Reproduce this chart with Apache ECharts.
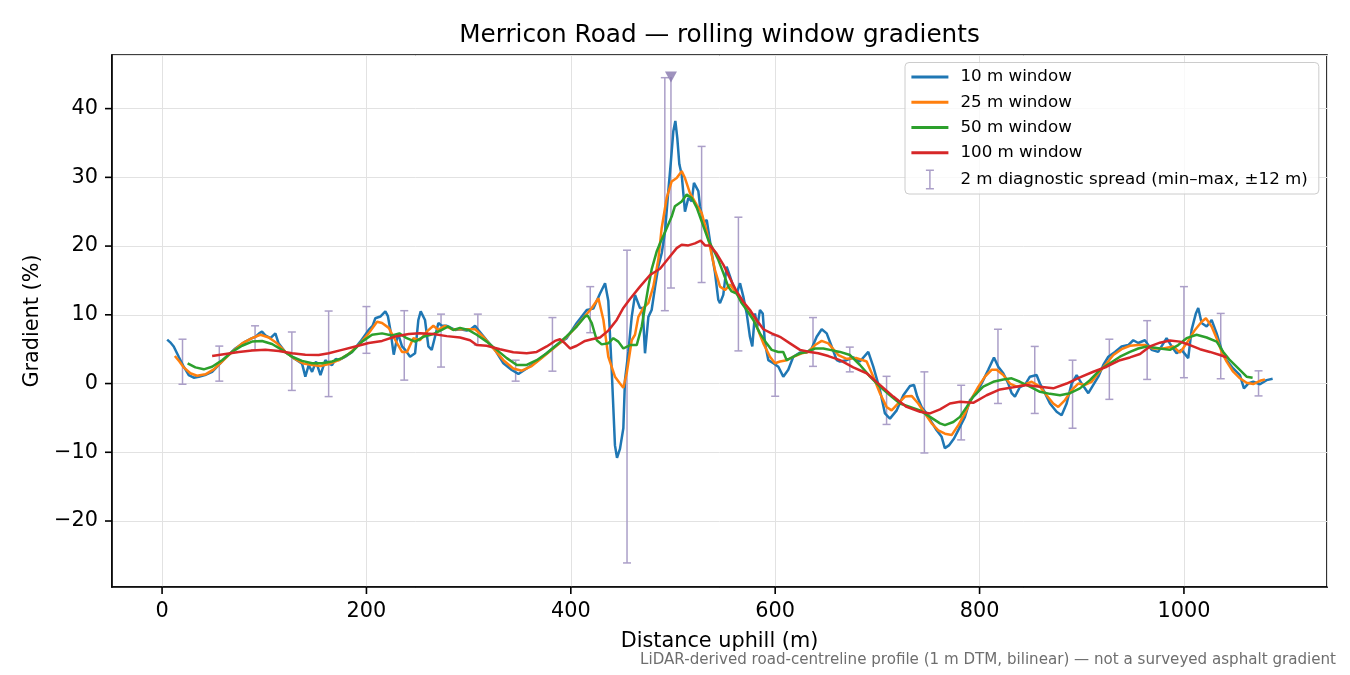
<!DOCTYPE html>
<html>
<head>
<meta charset="utf-8">
<title>Merricon Road gradients</title>
<script src="https://cdn.jsdelivr.net/npm/echarts@6/dist/echarts.min.js"></script>
<style>
  html, body { margin: 0; padding: 0; background: #fff; }
  #chart { width: 1350px; height: 675px; }
</style>
</head>
<body>
<div id="chart"></div>
<script>
// distance uphill (m) and gradient (%) for each rolling window
const dist10 = [
  5, 8, 11.4, 16.3, 21.2, 26.1, 31, 36, 42, 49,
  55.5, 63.6, 71.7, 81.5, 88, 91.3, 95, 97.8, 101, 106,
  110.9, 114, 120.6, 128.8, 133, 137, 140.2, 143.5, 146.8, 150.7,
  155, 159.8, 163, 166.3, 170, 172.9, 179.4, 185.9, 194, 202.2,
  206, 208.7, 213.6, 218.5, 221, 223.4, 226.7, 230.9, 234.8, 238,
  242.7, 247.6, 250.8, 253.1, 257.3, 260.6, 263.9, 267.1, 270.4, 273.7,
  278.6, 286.7, 292, 298.1, 303, 306.3, 309.5, 317.7, 325.8, 334,
  342.2, 348.7, 356.8, 366.6, 376.4, 386.2, 396, 405.8, 415.6, 422,
  428.6, 433.5, 436.7, 440, 443.2, 445.2, 448.1, 451.4, 453, 456.3,
  459.6, 462.8, 467.7, 470.3, 472.6, 475.9, 479.1, 482.4, 485.6, 489,
  492.2, 495.4, 497.7, 500.3, 502.3, 504.2, 506.2, 508.5, 511.7, 515,
  518.3, 520.5, 522, 524.8, 526.4, 529.7, 533, 535.5, 537.9, 541.1,
  544.3, 546, 549.2, 552.5, 555.8, 559, 562.3, 565.6, 568.8, 572.1,
  575.3, 577.6, 580.2, 582.5, 585.1, 587.8, 590, 593.3, 598.2, 603.1,
  607.9, 612.8, 617.7, 624.3, 630.8, 635.7, 640.6, 645.5, 650.4, 655,
  660.2, 663.4, 670, 676.4, 682.9, 691.1, 696, 702.5, 707.4, 712.3,
  718.9, 725.4, 731.9, 735.8, 739, 743.3, 748.2, 753.1, 758, 762.9,
  766, 770, 775, 780.8, 785.7, 790.6, 797.2, 803.6, 808.5, 814.1,
  818.3, 823.2, 828.1, 831.4, 834.6, 839.5, 844.4, 849.3, 855.8, 859.1,
  864, 868.9, 875.4, 880.3, 885.2, 890.1, 895, 899.9, 906.4, 911.3,
  916.2, 921.1, 926, 932.5, 939, 945.5, 950.4, 955.3, 961.8, 968.4,
  974.8, 983, 988, 992.8, 997.7, 1004.2, 1007.5, 1011.7, 1014, 1017.3,
  1022.2, 1027.1, 1032, 1036.9, 1041.8, 1048.2, 1054.8, 1058.7, 1062.9, 1067.8,
  1074.4, 1080.9, 1086.8
]
const grad10 = [
  6.4, 6.0, 5.4, 3.9, 2.45, 1.24, 0.85, 1.0, 1.24, 1.7,
  2.7, 4.0, 5.1, 6.1, 6.6, 6.8, 7.3, 7.55, 7.0, 6.6,
  7.3, 5.85, 4.6, 3.7, 3.3, 2.9, 1.0, 2.7, 1.7, 3.2,
  1.24, 3.4, 2.9, 2.7, 3.6, 3.4, 3.9, 4.6, 6.1, 7.8,
  8.4, 9.5, 9.75, 10.5, 9.8, 7.8, 4.2, 7.3, 5.4, 4.9,
  3.9, 4.4, 9.25, 10.5, 9.25, 5.4, 4.9, 6.8, 8.8, 8.4,
  8.4, 7.8, 7.9, 7.7, 8.0, 8.4, 7.8, 6.3, 4.9, 2.95,
  1.97, 1.4, 2.2, 3.2, 4.4, 5.6, 6.6, 8.8, 10.7, 10.9,
  13.1, 14.6, 12.0, 2.0, -9.0, -10.8, -9.5, -6.5, 0.5, 4.6,
  9.7, 12.9, 11.0, 11.0, 4.4, 9.7, 10.7, 14.0, 17.0, 19.0,
  22.1, 28.0, 31.9, 36.7, 38.2, 35.7, 31.9, 30.4, 25.0, 27.0,
  26.5, 29.2, 29.0, 28.0, 25.8, 23.4, 23.8, 21.4, 19.0, 16.1,
  12.2, 11.7, 12.9, 17.0, 15.6, 14.1, 13.1, 14.6, 12.65, 10.2,
  6.8, 5.4, 10.2, 8.3, 10.7, 10.2, 5.85, 3.4, 2.95, 2.45,
  1.0, 2.0, 3.9, 4.5, 4.5, 5.1, 6.8, 7.9, 7.3, 5.5,
  3.4, 3.2, 3.4, 3.8, 3.2, 4.6, 2.45, -0.95, -4.35, -5.1,
  -3.9, -1.7, -0.36, -0.2, -1.9, -3.4, -4.35, -5.6, -6.8, -7.75,
  -9.4, -9.0, -8.0, -6.3, -4.85, -2.4, -1.4, 0.5, 2.0, 3.8,
  2.45, 1.5, 0.0, -1.4, -1.9, -0.5, -0.2, 1.0, 1.24, 0.0,
  -1.4, -2.9, -4.1, -4.6, -2.9, 0.0, 1.24, 0.0, -1.4, -0.2,
  1.0, 2.7, 3.9, 4.6, 5.4, 5.6, 6.3, 5.9, 6.3, 4.9,
  4.6, 6.6, 5.4, 4.4, 4.9, 3.7, 7.8, 10.2, 11.0, 8.8,
  8.3, 9.25, 7.3, 4.9, 3.4, 2.2, 1.24, -0.7, 0.0, 0.26,
  -0.1, 0.5, 0.7
]

const dist25 = [
  12.5, 17, 21.2, 27.7, 34.2, 42.4, 50.6, 58.7, 68.5, 78.3,
  88.1, 96.2, 104.4, 112.5, 120.6, 128.8, 138.6, 146.8, 155, 163.1,
  172.9, 182.6, 192.4, 202.2, 210.4, 215.3, 221.8, 228.3, 234.8, 239.7,
  245.9, 252.4, 259, 265.5, 270.4, 276.9, 283.5, 294.8, 306.3, 314.4,
  324.2, 334, 343.7, 352, 361.7, 371.5, 381.3, 391.1, 400.9, 410.7,
  420.5, 427, 431.9, 436.7, 443.2, 448.1, 451.4, 454.7, 459.6, 462.8,
  466.1, 471, 475.9, 480.7, 485.6, 488.9, 493.8, 498.7, 503.6, 508.5,
  511.7, 516.6, 523.2, 528.1, 533, 537.9, 541.1, 546, 550.9, 555.8,
  562.3, 568.8, 575.3, 581.9, 588.4, 594.9, 599.8, 604.7, 611.3, 617.7,
  625.9, 632.4, 639, 645.5, 652, 661.8, 670, 679.8, 689.5, 696,
  702.5, 709, 713.9, 720.4, 727, 733.5, 740, 746.6, 753.1, 759.6,
  766.1, 772.7, 779.2, 785.7, 792.3, 798.8, 805.3, 811.8, 816.7, 823.2,
  829.7, 836.3, 842.8, 851, 859.1, 865.6, 872.1, 877, 883.6, 890.1,
  896.6, 903.1, 909.7, 916.2, 924.4, 930.9, 939, 947.2, 955.3, 962,
  970, 979.8, 989.5, 996.1, 1002.6, 1010.8, 1017.3, 1021.5, 1027.1, 1032,
  1036.9, 1041.8, 1048.2, 1054.8, 1061.3, 1067.8, 1074.4, 1079.3
]
const grad25 = [
  4.0, 3.2, 2.35, 1.5, 1.14, 1.34, 2.07, 3.2, 4.6, 5.85,
  6.6, 7.1, 6.7, 5.85, 4.6, 3.7, 2.9, 2.7, 2.55, 2.85,
  3.4, 4.3, 5.6, 7.3, 9.0, 8.8, 8.1, 6.3, 4.6, 4.6,
  6.6, 6.3, 7.55, 8.4, 7.8, 8.4, 7.9, 7.9, 7.9, 6.8,
  5.1, 3.4, 2.2, 1.87, 2.55, 3.7, 4.9, 6.1, 7.55, 9.25,
  11.0, 12.4, 9.25, 3.9, 1.0, 0.0, -0.6, 1.5, 6.3, 7.1,
  9.7, 11.0, 11.7, 14.1, 18.0, 22.6, 27.0, 29.4, 29.9, 30.9,
  29.9, 27.7, 26.0, 24.8, 22.1, 18.7, 16.5, 14.1, 13.6, 14.4,
  13.1, 11.7, 10.7, 8.3, 5.85, 3.9, 2.95, 3.2, 3.4, 3.9,
  4.4, 4.6, 5.6, 6.2, 5.85, 4.15, 3.6, 3.7, 3.2, 1.0,
  -1.4, -3.4, -3.9, -2.9, -1.9, -1.8, -2.9, -4.35, -5.8, -6.8,
  -7.3, -7.5, -6.05, -4.35, -2.15, -0.45, 1.0, 2.0, 2.0, 1.24,
  0.0, -0.45, -0.2, 0.26, -0.45, -1.7, -2.9, -3.4, -2.4, -0.95,
  0.0, -0.2, 0.26, 1.5, 2.95, 4.15, 5.0, 5.5, 5.6, 5.6,
  5.1, 5.1, 5.4, 4.5, 5.85, 7.8, 9.0, 9.5, 8.3, 6.6,
  4.6, 3.2, 1.72, 0.76, 0.12, -0.07, 0.4, 0.6
]

const dist50 = [
  25, 32.6, 40.8, 48.9, 58.7, 68.5, 78.3, 88.1, 97.8, 107.6,
  117.4, 127.2, 137, 146.8, 156.6, 166.3, 176.1, 185.9, 195.7, 205.5,
  215.3, 225, 232.2, 239.4, 247.6, 255.7, 265.5, 273.7, 280.1, 285,
  291.6, 299.7, 307.9, 317.7, 327.5, 337.3, 347.1, 356.8, 366.6, 376.4,
  386.2, 396, 405.8, 413.9, 416.5, 420.5, 425.4, 430.2, 436.7, 441.6,
  446.5, 451.4, 457.9, 464.5, 469.4, 472.6, 475.9, 479.1, 484, 487.3,
  493.8, 498.7, 501.9, 508.5, 513.4, 518.3, 523.2, 529.7, 534.5, 539.4,
  544.3, 549.2, 554.1, 557.4, 562.3, 567.2, 572.1, 578.6, 585.1, 591.6,
  596.5, 603.1, 607.9, 611.3, 617.7, 624.3, 630.8, 639, 647.1, 653.6,
  663.4, 673.2, 683, 692.8, 702.5, 712.3, 722.1, 731.9, 741.7, 751.5,
  761.3, 766.1, 774.3, 780.8, 787.4, 793.8, 803.6, 813.4, 823.2, 831.4,
  839.5, 849.3, 859.1, 868.9, 878.7, 888.5, 898.2, 908, 917.8, 927.6,
  937.4, 947.2, 955.3, 963.5, 976.5, 986.3, 994.4, 1002.6, 1012.4, 1022.2,
  1032, 1038.5, 1045, 1053.2, 1061.3, 1067.2
]
const grad50 = [
  2.95, 2.35, 2.07, 2.45, 3.4, 4.6, 5.5, 6.1, 6.2, 5.75,
  4.9, 3.9, 3.3, 2.95, 2.95, 3.2, 3.7, 4.6, 6.1, 7.1,
  7.3, 7.0, 7.3, 6.6, 6.1, 6.8, 7.2, 7.8, 8.3, 7.8,
  8.1, 7.8, 7.1, 6.1, 4.9, 3.7, 2.7, 2.7, 3.4, 4.4,
  5.6, 6.9, 8.3, 9.75, 9.9, 8.8, 6.3, 5.7, 5.85, 6.6,
  6.1, 5.1, 5.6, 5.6, 8.3, 11.2, 14.1, 16.6, 19.2, 20.4,
  22.6, 24.3, 25.8, 26.5, 27.5, 27.0, 25.6, 22.9, 20.9, 19.5,
  18.0, 16.1, 14.1, 13.4, 13.1, 11.7, 10.7, 9.25, 7.3, 5.85,
  4.9, 4.6, 4.6, 3.4, 3.9, 4.4, 4.6, 5.1, 5.1, 4.9,
  4.6, 4.15, 2.7, 1.0, -0.45, -1.7, -2.9, -3.4, -3.9, -4.85,
  -5.8, -6.05, -5.6, -4.85, -3.4, -1.9, -0.45, 0.26, 0.6, 0.76,
  0.26, -0.45, -1.2, -1.5, -1.7, -1.4, -0.7, 0.5, 2.0, 2.95,
  3.9, 4.6, 5.1, 5.4, 5.1, 4.9, 5.6, 6.6, 7.1, 6.7,
  6.1, 4.6, 3.4, 2.2, 1.0, 0.85
]

const dist100 = [
  49, 62, 75, 88.1, 101.1, 114.2, 127.2, 140.2, 153.3, 163.1,
  176.1, 189.1, 202.2, 215.3, 228.3, 241.4, 252.4, 265.5, 278.6, 291.6,
  301.4, 307.9, 317.7, 330.7, 343.7, 356.8, 366.6, 376.4, 384.5, 389.4,
  394.3, 399.2, 405.8, 413.9, 420.5, 428.6, 436.7, 444.9, 451.4, 457.9,
  467.7, 477.5, 487.3, 495.4, 503.6, 508.5, 515, 521.5, 527.1, 531.3,
  536.2, 542.7, 549.2, 555.8, 562.3, 568.8, 575.3, 581.9, 588.4, 596.5,
  604.7, 614.5, 624.3, 634, 642.2, 652, 663.4, 676.4, 689.5, 702.5,
  715.6, 728.6, 741.7, 751.5, 761.3, 771, 780.8, 793.8, 806.9, 820,
  833, 846, 859.1, 872.1, 885.2, 898.2, 911.3, 924.4, 937.4, 947.2,
  957, 966.7, 976.5, 986.3, 996.1, 1005.9, 1015.7, 1025.4, 1035.2, 1041.8
]
const grad100 = [
  4.0, 4.3, 4.6, 4.8, 4.9, 4.75, 4.4, 4.2, 4.15, 4.4,
  4.9, 5.4, 5.9, 6.2, 6.85, 7.2, 7.3, 7.2, 6.9, 6.7,
  6.3, 5.6, 5.5, 5.0, 4.55, 4.4, 4.6, 5.4, 6.2, 6.45,
  5.85, 5.1, 5.5, 6.2, 6.45, 6.7, 7.7, 9.25, 11.0, 12.3,
  14.1, 15.8, 16.7, 18.2, 19.7, 20.2, 20.1, 20.4, 20.8, 20.1,
  20.1, 18.9, 17.3, 15.3, 13.4, 11.9, 10.7, 9.25, 7.9, 7.3,
  6.8, 5.85, 4.9, 4.6, 4.4, 4.0, 3.4, 2.35, 1.5, -0.2,
  -1.9, -3.4, -4.1, -4.35, -3.75, -2.9, -2.65, -2.8, -1.7, -0.85,
  -0.55, -0.2, -0.45, -0.7, 0.0, 0.9, 1.72, 2.45, 3.4, 3.8,
  4.3, 5.4, 5.95, 6.25, 6.1, 5.6, 5.0, 4.6, 4.15, 3.8
]

// 2 m diagnostic spread, min and max within ±12 m
const spreadDist = [20, 56, 91, 127, 163, 200, 237, 273, 309, 346, 382, 419, 455, 492, 528,
  564, 600, 637, 673, 709, 746, 782, 818, 854, 891, 927, 964, 1000, 1036, 1073]
const spreadMin = [-0.1, 0.35, 4.9, -1.0, -1.9, 4.4, 0.5, 2.4, 5.6, 0.35, 1.8, 7.4, -26.1, 10.6, 14.7,
  4.75, -1.85, 2.5, 1.7, -5.95, -10.1, -8.2, -2.9, -4.35, -6.5, -2.3, 0.6, 0.85, 0.7, -1.8]
const spreadMax = [6.45, 5.45, 8.4, 7.5, 10.55, 11.2, 10.6, 10.1, 10.1, 3.4, 9.6, 14.1, 19.4, 44.5, 34.5,
  24.2, 7.0, 9.6, 5.3, 1.05, 1.7, -0.25, 7.9, 5.4, 3.4, 6.45, 9.15, 14.1, 10.2, 1.85]

// spread that runs off the top of the axis, flagged with a marker
const clippedDist = [498]
const clippedMin = [13.9]
const clippedTop = [44.6]

const xTicks = [0, 200, 400, 600, 800, 1000]
const yTicks = [-20, -10, 0, 10, 20, 30, 40]

const X_MIN = -49
const X_MAX = 1140
const Y_MIN = -29.6
const Y_MAX = 47.8

const FONT = 'DejaVu Sans'
const spreadColor = '#ab9fc8'
const spreadName = '2 m diagnostic spread (min–max, ±12 m)'
// I-beam legend icon, outer moves keep the box at the legend item size
const ibeamIcon = 'path://M0,0 M37,20 M14.5,0 L22.5,0 L22.5,1.5 L19.25,1.5 L19.25,18.5 L22.5,18.5 L22.5,20 L14.5,20 L14.5,18.5 L17.75,18.5 L17.75,1.5 L14.5,1.5 Z'
const LINE_W = 2.5
const TICK_LEN = 7

function zip(xs, ys) {
  return xs.map((x, i) => [x, ys[i]])
}

function lineSeries(name, xs, ys, color) {
  return {
    name,
    type: 'line',
    data: zip(xs, ys),
    symbol: 'none',
    showSymbol: false,
    smooth: false,
    lineStyle: { color, width: LINE_W },
    itemStyle: { color },
    z: 3
  }
}

function renderSpread(params, api) {
  const x = api.value(0)
  const lo = api.coord([x, api.value(1)])
  const hi = api.coord([x, api.value(2)])
  const w = 4
  const style = { stroke: spreadColor, lineWidth: 1.5 }
  const children = [
    { type: 'line', shape: { x1: lo[0], y1: lo[1], x2: hi[0], y2: hi[1] }, style },
    { type: 'line', shape: { x1: lo[0] - w, y1: lo[1], x2: lo[0] + w, y2: lo[1] }, style }
  ]
  if (api.value(3)) {
    children.push({ type: 'line', shape: { x1: hi[0] - w, y1: hi[1], x2: hi[0] + w, y2: hi[1] }, style })
  }
  return { type: 'group', children }
}

const spreadData = spreadDist.map((d, i) => [d, spreadMin[i], spreadMax[i], 1])
  .concat(clippedDist.map((d, i) => [d, clippedMin[i], clippedTop[i], 0]))

const tickText = v => (v < 0 ? '\u2212' + Math.abs(v) : String(v))
const hideDot = { opacity: 0 }
const legendLine = { width: 2.8 }
const frameLine = { color: '#000', width: 1.6 }

const footnote = {
  type: 'text',
  right: 14,
  top: 653,
  style: {
    text: 'LiDAR-derived road-centreline profile (1 m DTM, bilinear) — not a surveyed asphalt gradient',
    fontFamily: FONT,
    fontSize: 15.1,
    fill: '#6e6e6e'
  }
}

const option = {
  animation: false,
  backgroundColor: '#fff',
  textStyle: { fontFamily: FONT },
  title: {
    text: 'Merricon Road — rolling window gradients',
    left: 719.5,
    top: 23,
    textAlign: 'center',
    padding: 0,
    textStyle: { fontFamily: FONT, fontSize: 24.7, fontWeight: 'normal', color: '#000' }
  },
  grid: {
    left: 112, right: 23, top: 55, bottom: 88,
    show: true, borderColor: '#000', borderWidth: 1.6
  },
  legend: {
    orient: 'vertical',
    left: 905,
    top: 62.5,
    padding: [6, 11, 4.5, 5],
    itemWidth: 37,
    itemHeight: 20,
    itemGap: 8.25,
    backgroundColor: 'rgba(255,255,255,0.8)',
    borderColor: '#cccccc',
    borderWidth: 1,
    borderRadius: 4,
    textStyle: { fontFamily: FONT, fontSize: 16.7, color: '#000', padding: [0, 0, 0, 7] },
    data: [
      { name: '10 m window', itemStyle: hideDot, lineStyle: legendLine },
      { name: '25 m window', itemStyle: hideDot, lineStyle: legendLine },
      { name: '50 m window', itemStyle: hideDot, lineStyle: legendLine },
      { name: '100 m window', itemStyle: hideDot, lineStyle: legendLine },
      { name: spreadName, icon: ibeamIcon }
    ]
  },
  xAxis: {
    type: 'value',
    min: X_MIN,
    max: X_MAX,
    splitNumber: 5,
    name: 'Distance uphill (m)',
    nameLocation: 'middle',
    nameGap: 44,
    nameTextStyle: { fontFamily: FONT, fontSize: 20.8, color: '#000' },
    axisLine: { show: true, onZero: false, lineStyle: frameLine },
    axisTick: { show: false },
    axisLabel: { customValues: xTicks, margin: 14, fontFamily: FONT, fontSize: 20.8, color: '#000', formatter: tickText },
    splitLine: { show: true, lineStyle: { color: '#e2e2e2', width: 1 } }
  },
  yAxis: {
    type: 'value',
    min: Y_MIN,
    max: Y_MAX,
    splitNumber: 8,
    name: 'Gradient (%)',
    nameLocation: 'middle',
    nameGap: 66,
    nameTextStyle: { fontFamily: FONT, fontSize: 20.8, color: '#000' },
    axisLine: { show: true, onZero: false, lineStyle: frameLine },
    axisTick: { show: false },
    axisLabel: { customValues: yTicks, margin: 14, fontFamily: FONT, fontSize: 20.8, color: '#000', formatter: tickText },
    splitLine: { show: true, lineStyle: { color: '#e2e2e2', width: 1 } }
  },
  series: [
    {
      name: spreadName,
      type: 'custom',
      renderItem: renderSpread,
      data: spreadData,
      encode: { x: 0, y: [1, 2] },
      itemStyle: { color: spreadColor },
      z: 2
    },
    lineSeries('10 m window', dist10, grad10, '#1f77b4'),
    lineSeries('25 m window', dist25, grad25, '#ff7f0e'),
    lineSeries('50 m window', dist50, grad50, '#2ca02c'),
    lineSeries('100 m window', dist100, grad100, '#d62728'),
    {
      name: 'clipped',
      type: 'scatter',
      data: zip(clippedDist, clippedTop),
      symbol: 'triangle',
      symbolRotate: 180,
      symbolSize: [12, 11],
      itemStyle: { color: '#8677ac' },
      z: 4
    }
  ],
  graphic: [footnote]
}

const chart = echarts.init(document.getElementById('chart'), null, { renderer: 'canvas' })
chart.setOption(option)

// outward tick marks on the bottom and left edges, placed through the axis scales
function tickMark(p, vertical) {
  const shape = vertical
    ? { x1: p[0], y1: p[1], x2: p[0], y2: p[1] + TICK_LEN }
    : { x1: p[0] - TICK_LEN, y1: p[1], x2: p[0], y2: p[1] }
  return { type: 'line', silent: true, zlevel: 1, z: 100, shape, style: { stroke: '#000', lineWidth: 1.6 } }
}
const ticks = xTicks.map(v => tickMark(chart.convertToPixel({ gridIndex: 0 }, [v, Y_MIN]), true))
  .concat(yTicks.map(v => tickMark(chart.convertToPixel({ gridIndex: 0 }, [X_MIN, v]), false)))
chart.setOption({ graphic: [footnote].concat(ticks) })
</script>
</body>
</html>
